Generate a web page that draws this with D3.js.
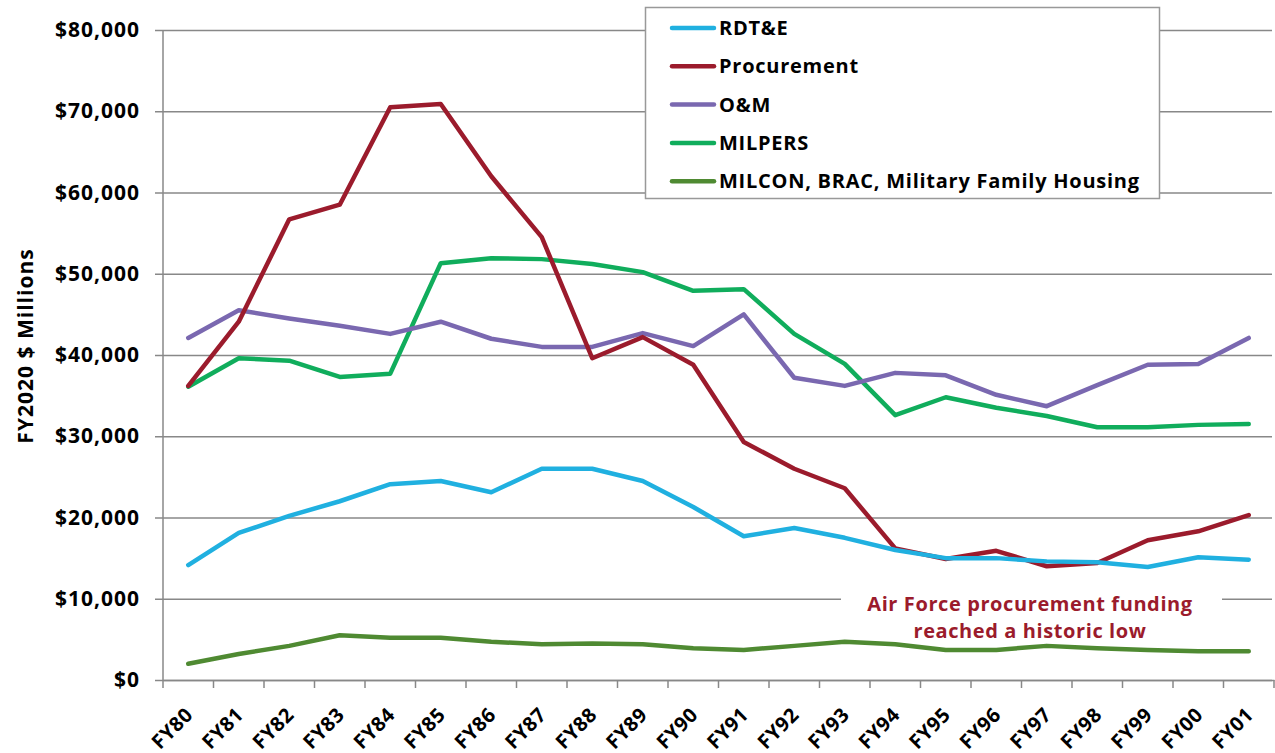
<!DOCTYPE html>
<html>
<head>
<meta charset="utf-8">
<script src="https://cdn.jsdelivr.net/npm/d3@7"></script>
<style>
  html, body { margin: 0; padding: 0; background: #ffffff; }
  svg { display: block; }
  svg text { font-family: 'Open Sans', Lato, sans-serif; }
</style>
</head>
<body>
<div id="chart"></div>
<script>
/* ── data ─────────────────────────────────────────── */
const years = ["FY80","FY81","FY82","FY83","FY84","FY85","FY86","FY87","FY88","FY89","FY90",
               "FY91","FY92","FY93","FY94","FY95","FY96","FY97","FY98","FY99","FY00","FY01"];

const rdte        = [14150,18100,20200,22000,24100,24500,23100,26000,26000,24500,21300,
                     17700,18700,17500,16000,15000,15000,14600,14500,13900,15100,14800];
const procurement = [36200,44100,56700,58500,70500,70900,62000,54500,39600,42200,38800,
                     29300,26000,23600,16200,14900,15900,14000,14400,17200,18300,20300];
const om          = [42100,45500,44500,43600,42600,44100,42000,41000,41000,42700,41100,
                     45000,37200,36200,37800,37500,35100,33700,36300,38800,38900,42100];
const milpers     = [36100,39600,39300,37300,37700,51300,51900,51800,51200,50200,47900,
                     48100,42600,38900,32600,34800,33500,32500,31100,31100,31400,31500];
const milcon      = [2000,3200,4200,5500,5200,5200,4700,4400,4500,4400,3900,
                     3700,4200,4700,4400,3700,3700,4200,3900,3700,3550,3550];

const seriesNames  = ["RDT&E","Procurement","O&M","MILPERS","MILCON, BRAC, Military Family Housing"];
const seriesColors = ["#20b0e0","#9b1b2c","#7a68b0","#10ad5c","#4f8a32"];
const yTicks = [0,10000,20000,30000,40000,50000,60000,70000,80000];

const series = [rdte, procurement, om, milpers, milcon].map((vals, i) => ({
  name: seriesNames[i], color: seriesColors[i], values: vals
}));

/* ── layout ───────────────────────────────────────── */
const W = 1275, H = 753;
const plot = { left: 163, right: 1274, top: 30, bottom: 680 };
const FONT = "'Open Sans', Lato, sans-serif";

const svg = d3.select("#chart").append("svg")
  .attr("width", W).attr("height", H);

const x = d3.scaleBand().domain(years).range([plot.left, plot.right]);
const y = d3.scaleLinear().domain([0, 80000]).range([plot.bottom, plot.top]);

const fmt = v => "$" + d3.format(",")(v);

// gridlines + y labels
const yAxis = svg.append("g")
  .attr("transform", `translate(${plot.left},0)`)
  .call(d3.axisLeft(y).tickValues(yTicks).tickFormat(fmt)
        .tickSize(-(plot.right - 2 - plot.left)).tickPadding(24))
  .attr("font-family", FONT);
yAxis.select(".domain").remove();
yAxis.selectAll(".tick line").attr("stroke", "#888888").attr("stroke-width", 1.3)
  .attr("x1", -8);
yAxis.selectAll(".tick text")
  .attr("font-size", 21).attr("font-weight", 700).attr("fill", "#000")
  .attr("letter-spacing", 1).attr("dx", 1);

// y title
svg.append("text")
  .attr("transform", `translate(33,346) rotate(-90)`)
  .attr("text-anchor", "middle")
  .attr("font-size", 21).attr("font-weight", 700)
  .attr("letter-spacing", 1)
  .text("FY2020 $ Millions");

// axis lines
svg.append("line")
  .attr("x1", plot.left).attr("x2", plot.left)
  .attr("y1", plot.top).attr("y2", plot.bottom)
  .attr("stroke", "#888888").attr("stroke-width", 1.5);

const xAxis = svg.append("g")
  .attr("transform", `translate(0,${plot.bottom})`)
  .call(d3.axisBottom(x).tickSize(0).tickPadding(0))
  .attr("font-family", FONT);
xAxis.select(".domain").attr("stroke", "#888888").attr("stroke-width", 1.5);
xAxis.selectAll(".tick text")
  .attr("font-size", 20).attr("font-weight", 700).attr("fill", "#000")
  .attr("letter-spacing", 0.5)
  .attr("text-anchor", "end")
  .attr("y", 0).attr("dy", 0)
  .attr("transform", "translate(6,36) rotate(-45)");

// band boundary ticks
svg.append("g").selectAll("line")
  .data(years.concat(["end"]))
  .join("line")
  .attr("x1", (d, i) => plot.left + i * x.bandwidth())
  .attr("x2", (d, i) => plot.left + i * x.bandwidth())
  .attr("y1", plot.bottom).attr("y2", plot.bottom + 8)
  .attr("stroke", "#888888").attr("stroke-width", 1.5);

// annotation box (hides gridline behind text)
svg.append("rect")
  .attr("x", 841).attr("y", 585).attr("width", 381).attr("height", 60)
  .attr("fill", "#ffffff");

// lines
const line = d3.line()
  .x((d, i) => x(years[i]) + x.bandwidth() / 2)
  .y(d => y(d));

svg.append("g").selectAll("path")
  .data(series.slice().reverse())
  .join("path")
  .attr("d", d => line(d.values))
  .attr("fill", "none")
  .attr("stroke", d => d.color)
  .attr("stroke-width", 4.5)
  .attr("stroke-linejoin", "round")
  .attr("stroke-linecap", "round");

// annotation
const ann = svg.append("text")
  .attr("text-anchor", "middle")
  .attr("font-size", 20).attr("font-weight", 700)
  .attr("letter-spacing", 0.6)
  .attr("fill", "#9b1b2c");
ann.append("tspan").attr("x", 1030).attr("y", 611).text("Air Force procurement funding");
ann.append("tspan").attr("x", 1030).attr("y", 638).text("reached a historic low");

// legend
const lg = svg.append("g");
lg.append("rect")
  .attr("x", 645.5).attr("y", 7.5).attr("width", 514).attr("height", 191)
  .attr("fill", "#ffffff").attr("stroke", "#999999").attr("stroke-width", 1.5);

const rows = lg.selectAll("g.row")
  .data(series)
  .join("g")
  .attr("class", "row")
  .attr("transform", (d, i) => `translate(0,${28 + i * 38.3})`);
rows.append("line")
  .attr("x1", 672).attr("x2", 714)
  .attr("stroke", d => d.color).attr("stroke-width", 4.5)
  .attr("stroke-linecap", "round");
rows.append("text")
  .attr("x", 719).attr("dy", "0.35em")
  .attr("font-size", 20).attr("font-weight", 700)
  .attr("letter-spacing", 0.75)
  .text(d => d.name);
</script>
</body>
</html>
